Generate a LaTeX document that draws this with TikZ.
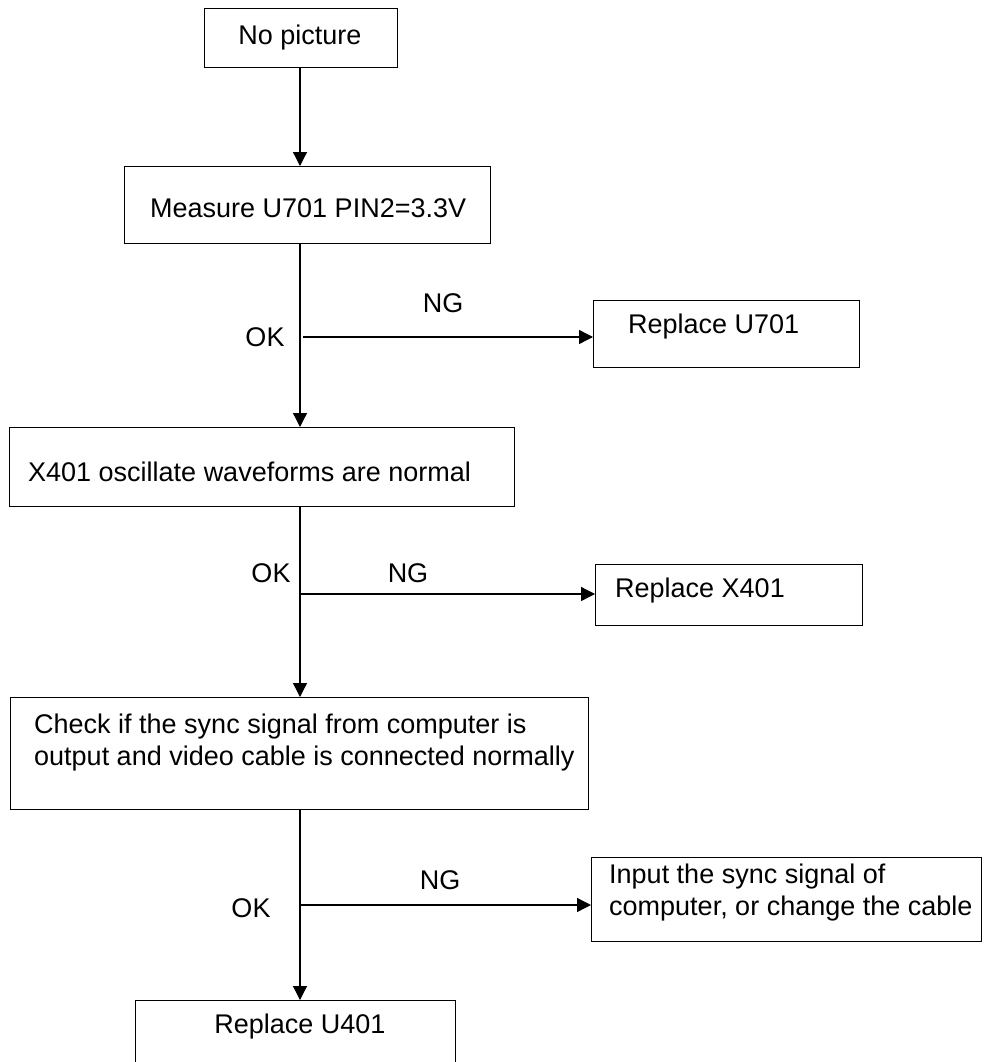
\documentclass[tikz,border=0pt]{standalone}
\usepackage{fontspec}
\setmainfont{Liberation Sans}
\usetikzlibrary{arrows.meta}

\begin{document}
\begin{tikzpicture}[x=1pt, y=-1pt,
    box/.style={rectangle, draw, line width=1.4pt, inner sep=0pt, anchor=north west},
    txt/.style={anchor=west, inner sep=0pt, align=left},
    connector/.style={-{Triangle[length=14pt, width=14pt]}, line width=1.3pt},
    branch/.style={line width=1.3pt}
]
\tikzstyle{every node}=[font=\fontsize{27}{32}\selectfont]

\useasboundingbox (0,0) rectangle (983,1062);

% --- BOITES ---
\node[box, minimum width=193pt, minimum height=59pt] (nopic) at (204,8) {};
\node[box, minimum width=366pt, minimum height=77pt] (measure) at (124,166) {};
\node[box, minimum width=266pt, minimum height=67pt] (u701) at (593,300) {};
\node[box, minimum width=505pt, minimum height=79pt] (x401) at (9,427) {};
\node[box, minimum width=267pt, minimum height=61pt] (rx401) at (595,564) {};
\node[box, minimum width=578pt, minimum height=112pt] (check) at (10,697) {};
\node[box, minimum width=390pt, minimum height=84pt] (input) at (591,857) {};
\node[box, minimum width=320pt, minimum height=90pt] (u401) at (135,1000) {};

% --- TEXTES ---
\node (nopic-t) at (300,38) {No picture};
\node[txt] (measure-t) at (150,208) {Measure U701 PIN2=3.3V};
\node[txt] (u701-t) at (628,327) {Replace U701};
\node[txt] (x401-t) at (28,472) {X401 oscillate waveforms are normal};
\node[txt] (rx401-t) at (615,591) {Replace X401};
\node[txt] (check-t) at (34,743) {Check if the sync signal from computer is\\output and video cable is connected normally};
\node[txt] (input-t) at (609,893) {Input the sync signal of\\computer, or change the cable};
\node (u401-t) at (300,1027) {Replace U401};

% --- CONNEXIONS ---
\coordinate (spine) at (300,0);
\coordinate (ok1) at (300,337);
\coordinate (ok2) at (300,594);
\coordinate (ok3) at (300,905);

\draw[connector] (spine |- nopic.south) -- (spine |- measure.north);
\draw[connector] (spine |- measure.south) -- (spine |- x401.north);
\draw[connector] (spine |- x401.south) -- (spine |- check.north);
\draw[connector] (spine |- check.south) -- (spine |- u401.north);

\draw[connector] ([xshift=3pt]ok1) -- (ok1 -| u701.west);
\draw[connector] (ok2) -- (ok2 -| rx401.west);
\draw[connector] (ok3) -- (ok3 -| input.west);

% --- OK / NG ---
\node (ok1-t) at (265,337) {OK};
\node (ng1-t) at (443,303) {NG};
\node (ok2-t) at (271,573) {OK};
\node (ng2-t) at (408,573) {NG};
\node (ok3-t) at (251,908) {OK};
\node (ng3-t) at (440,880) {NG};

\end{tikzpicture}
\end{document}
